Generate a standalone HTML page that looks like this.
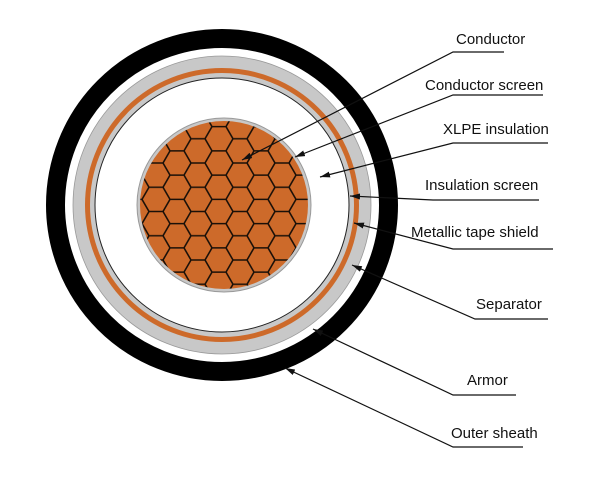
<!DOCTYPE html>
<html><head><meta charset="utf-8"><style>
html,body{margin:0;padding:0;background:#fff;}
svg{display:block}
text{font-family:"Liberation Sans",sans-serif;font-size:15px;fill:#111}
</style></head><body>
<svg width="600" height="480" viewBox="0 0 600 480">
<defs>
<pattern id="hex" patternUnits="userSpaceOnUse" x="219" y="163" width="42" height="24.25">
<rect width="42" height="24.25" fill="#cd6a2a"/>
<path d="M0,12.125H7L14,0H28L35,12.125H42M7,12.125L14,24.25H28L35,12.125" stroke="#1a1008" stroke-width="1.6" fill="none"/>
</pattern>
<marker id="ar" markerWidth="10" markerHeight="6" refX="10" refY="3" orient="auto" markerUnits="userSpaceOnUse">
<path d="M0,0L10,3L0,6z" fill="#111"/>
</marker>
</defs>
<circle cx="222" cy="205" r="166.5" fill="none" stroke="#000" stroke-width="19"/>
<circle cx="222" cy="205" r="138" fill="none" stroke="#c8c8c8" stroke-width="22"/>
<circle cx="222" cy="205" r="149" fill="none" stroke="#999" stroke-width="0.8"/>
<circle cx="222" cy="205" r="134.5" fill="none" stroke="#cd6a2a" stroke-width="5"/>
<circle cx="222" cy="205" r="127" fill="#fff" stroke="#222" stroke-width="1"/>
<circle cx="224" cy="205" r="87" fill="#c8c8c8" stroke="#999" stroke-width="1"/>
<circle cx="224" cy="205" r="84" fill="url(#hex)"/>
<g stroke="#111" stroke-width="1.2" fill="none">
<polyline points="504,52 453,52 242,160" marker-end="url(#ar)"/>
<polyline points="543,95 453,95 295,157" marker-end="url(#ar)"/>
<polyline points="548,143 453,143 320,177" marker-end="url(#ar)"/>
<polyline points="539,200 433,200 350,196" marker-end="url(#ar)"/>
<polyline points="553,249 453,249 354,223" marker-end="url(#ar)"/>
<polyline points="548,319 475,319 352,265" marker-end="url(#ar)"/>
<polyline points="516,395 453,395 313,329" marker-end="url(#ar)"/>
<polyline points="523,447 453,447 285,368" marker-end="url(#ar)"/>
</g>
<text x="456" y="44">Conductor</text>
<text x="425" y="90">Conductor screen</text>
<text x="443" y="134">XLPE insulation</text>
<text x="425" y="190">Insulation screen</text>
<text x="411" y="237">Metallic tape shield</text>
<text x="476" y="309">Separator</text>
<text x="467" y="385">Armor</text>
<text x="451" y="438">Outer sheath</text>
</svg>
</body></html>
